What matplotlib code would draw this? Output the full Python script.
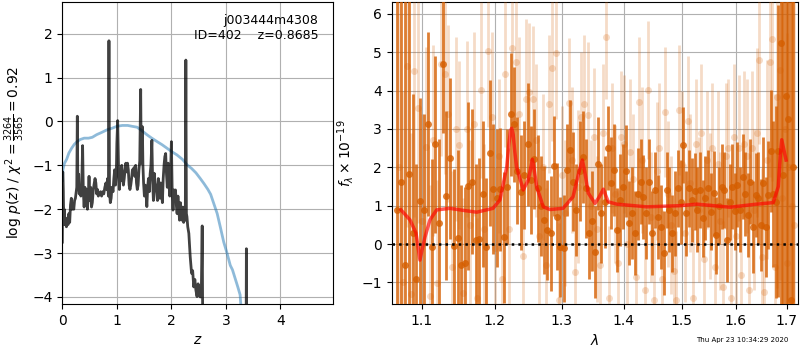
import matplotlib
matplotlib.use('Agg')
import matplotlib.pyplot as plt
from matplotlib.ticker import FixedLocator, NullLocator, FixedFormatter

# ---- left panel: redshift probability ----
z_pz = [0.000, 0.008, 0.018, 0.025, 0.035, 0.045, 0.060, 0.075, 0.090, 0.105,
        0.120, 0.135, 0.150, 0.165, 0.180, 0.195, 0.210, 0.225, 0.240, 0.255,
        0.265, 0.275, 0.285, 0.300, 0.310, 0.325, 0.340, 0.355, 0.372, 0.385,
        0.400, 0.415, 0.430, 0.445, 0.460, 0.475, 0.490, 0.505, 0.520, 0.535,
        0.550, 0.565, 0.580, 0.600, 0.615, 0.630, 0.645, 0.660, 0.680, 0.700,
        0.720, 0.740, 0.760, 0.780, 0.800, 0.815, 0.830, 0.845, 0.855, 0.865,
        0.880, 0.895, 0.910, 0.930, 0.945, 0.960, 0.975, 0.990, 1.000, 1.015,
        1.030, 1.045, 1.060, 1.075, 1.090, 1.105, 1.120, 1.135, 1.150, 1.165,
        1.180, 1.195, 1.210, 1.225, 1.240, 1.255, 1.270, 1.285, 1.300, 1.315,
        1.330, 1.345, 1.360, 1.375, 1.390, 1.405, 1.420, 1.437, 1.447, 1.455,
        1.468, 1.478, 1.490, 1.505, 1.520, 1.535, 1.550, 1.565, 1.580, 1.595,
        1.610, 1.625, 1.642, 1.655, 1.670, 1.685, 1.700, 1.715, 1.730, 1.745,
        1.760, 1.775, 1.790, 1.805, 1.820, 1.835, 1.850, 1.865, 1.880, 1.895,
        1.910, 1.925, 1.940, 1.955, 1.970, 1.985, 2.000, 2.015, 2.030, 2.045,
        2.060, 2.075, 2.090, 2.105, 2.120, 2.135, 2.150, 2.165, 2.180, 2.195,
        2.210, 2.225, 2.240, 2.255, 2.265, 2.275, 2.285, 2.300, 2.320, 2.345,
        2.370, 2.390, 2.410, 2.430, 2.450, 2.470, 2.490, 2.510, 2.530, 2.548,
        2.565, 2.580, 2.700, 3.000, 3.300, 3.366, 3.375, 3.385, 3.500, 4.970]
lnp = [-2.75, -1.15, -1.60, -2.20, -2.00, -2.35, -2.25, -2.40, -2.20, -2.35,
       -2.10, -2.30, -1.90, -1.75, -2.00, -1.90, -2.00, -1.80, -1.75, -1.60,
       -1.50, 0.12, -1.45, -1.20, -1.65, -1.55, -1.70, -1.50, -0.55, -1.60,
       -1.95, -1.50, -1.85, -1.55, -2.00, -1.70, -1.25, -1.80, -1.50, -1.95,
       -1.85, -1.60, -1.45, -1.30, -1.40, -1.65, -1.55, -1.70, -1.65, -1.60,
       -1.70, -1.60, -1.65, -1.50, -1.40, -1.55, -1.30, -1.70, 1.84, -1.60,
       -1.85, -1.75, -1.50, -1.60, -1.30, -1.10, -1.45, -1.20, -0.50, 0.02,
       -1.00, -1.55, -1.20, -1.35, -1.00, -1.25, -1.45, -1.30, -1.10, -0.95,
       -1.15, -0.95, -1.10, -1.45, -1.55, -1.45, -1.30, -1.10, -1.20, -1.05,
       -1.25, -1.00, -1.40, -1.55, -1.45, -1.10, -0.90, 0.73, -0.95, -0.90,
       -0.12, -1.00, -1.40, -1.70, -1.45, -1.65, -1.94, -1.49, -1.30, -1.60,
       -1.20, -1.00, -0.43, -1.30, -1.80, -1.18, -1.40, -1.49, -1.65, -1.80,
       -1.30, -1.55, -1.75, -1.40, -1.60, -1.85, -1.30, -1.00, -0.80, -0.73,
       -1.20, -1.50, -0.95, -1.40, -1.70, -1.20, -0.46, -1.64, -2.02, -1.56,
       -1.80, -1.56, -1.90, -2.10, -1.70, -2.00, -2.25, -1.85, -2.10, -2.25,
       -1.95, -2.30, -2.10, -2.25, 1.40, -2.10, -2.17, -2.40, -2.55, -3.08,
       -3.46, -3.40, -3.77, -3.60, -3.85, -3.99, -3.70, -3.95, -4.00, -3.99,
       -2.38, -6.00, -8.00, -8.00, -8.00, -7.00, -2.90, -7.00, -8.00, -8.00]

z_prior = [0.00, 0.01, 0.04, 0.08, 0.12, 0.17, 0.22, 0.27, 0.33, 0.40,
           0.48, 0.55, 0.63, 0.72, 0.82, 0.92, 1.00, 1.10, 1.20, 1.28,
           1.37, 1.45, 1.55, 1.64, 1.74, 1.83, 1.92, 2.01, 2.10, 2.20,
           2.29, 2.37, 2.45, 2.53, 2.60, 2.67, 2.72, 2.78, 2.84, 2.90,
           2.96, 3.02, 3.08, 3.12, 3.17, 3.22, 3.26, 3.28, 3.32, 3.45]
lnp_prior = [-1.35, -1.10, -0.95, -0.86, -0.72, -0.61, -0.52, -0.46, -0.41, -0.38,
             -0.38, -0.36, -0.30, -0.25, -0.19, -0.15, -0.11, -0.09, -0.09, -0.11,
             -0.13, -0.20, -0.30, -0.38, -0.46, -0.53, -0.61, -0.69, -0.76, -0.86,
             -0.99, -1.07, -1.17, -1.30, -1.42, -1.55, -1.66, -1.88, -2.10, -2.42,
             -2.75, -3.00, -3.28, -3.38, -3.58, -3.78, -3.95, -4.30, -5.00, -6.50]

# ---- right panel: 1D spectrum ----
wave_a = [1.068, 1.073, 1.078, 1.083, 1.088, 1.093, 1.098, 1.103, 1.108, 1.113,
          1.118, 1.123, 1.128, 1.133, 1.138, 1.143, 1.148, 1.153, 1.158, 1.163,
          1.168, 1.173, 1.178, 1.183, 1.188, 1.193, 1.198, 1.203, 1.208, 1.213,
          1.218, 1.223, 1.228, 1.233, 1.238, 1.243, 1.248, 1.253, 1.258, 1.263,
          1.268, 1.273, 1.278, 1.283, 1.288, 1.293, 1.298, 1.303, 1.308, 1.313,
          1.318, 1.323, 1.328, 1.333, 1.338, 1.343, 1.348, 1.353, 1.358, 1.363,
          1.368, 1.373, 1.378, 1.383, 1.388, 1.393, 1.398, 1.403, 1.408, 1.413,
          1.418, 1.423, 1.428, 1.433, 1.438, 1.443, 1.448, 1.453, 1.458, 1.463,
          1.468, 1.473, 1.478, 1.483, 1.488, 1.493, 1.498, 1.503, 1.508, 1.513,
          1.518, 1.523, 1.528, 1.533, 1.538, 1.543, 1.548, 1.553, 1.558, 1.563,
          1.568, 1.573, 1.578, 1.583, 1.588, 1.593, 1.598, 1.603, 1.608, 1.613,
          1.618, 1.623, 1.628, 1.633, 1.638, 1.643, 1.648, 1.653, 1.658, 1.663,
          1.668, 1.673, 1.678, 1.683, 1.688, 1.693, 1.698, 1.703, 1.708, 1.713]
flux_a = [0.90, 1.61, -0.55, 1.83, 0.30, -0.90, 1.11, 0.89, 3.13, -0.09,
          2.60, 0.54, 4.70, 1.26, 2.24, -0.05, 0.15, -0.55, -0.50, 1.51,
          1.63, 0.10, 0.14, 1.30, -0.09, 2.37, 1.43, 1.20, 1.43, 0.17,
          1.50, 3.38, 3.12, 1.91, 1.35, 1.80, 2.60, 1.67, 2.21, 1.45,
          1.00, 0.63, 0.37, 0.28, 2.04, 0.71, -0.07, -0.11, 1.93, 2.45,
          1.63, 0.89, 1.90, 2.28, 1.45, 0.28, 0.60, -0.20, 2.10, 0.80,
          1.10, 2.50, 1.58, 1.93, 0.37, 1.15, 1.50, 1.90, 0.54, 0.80,
          0.28, 1.30, 1.63, 1.23, 0.80, 1.63, 0.28, 1.41, 0.71, 0.45,
          -0.24, 1.41, 0.90, 0.28, 0.80, 1.45, 1.10, 2.58, 0.80, 1.45,
          1.15, 1.37, 0.90, 1.41, 0.67, 1.20, 1.45, 0.84, 1.32, 0.23,
          1.00, 1.50, 1.41, 0.10, 1.10, 1.50, 0.85, 1.55, 0.90, 1.76,
          1.30, 0.76, 1.63, 0.45, 1.28, 1.20, 0.50, 1.60, 0.45, 1.28,
          2.43, 1.30, 1.10, 2.43, 5.25, 1.80, 3.87, 3.26, -1.46, 2.00]
err_a = [10.0, 8.0, 7.0, 5.5, 3.6, 3.0, 2.7, 2.5, 2.4, 2.3,
         2.3, 2.2, 1.8, 2.2, 2.1, 2.0, 2.3, 2.1, 2.0, 2.2,
         1.9, 2.0, 2.1, 1.9, 1.8, 1.9, 1.7, 1.8, 1.6, 1.7,
         1.5, 1.6, 1.5, 1.4, 1.5, 1.4, 1.6, 1.4, 1.3, 1.4,
         1.3, 1.4, 1.3, 1.5, 1.3, 1.4, 1.3, 1.4, 1.2, 1.3,
         1.3, 1.2, 1.3, 1.2, 1.3, 1.2, 1.3, 1.2, 1.2, 1.3,
         1.2, 1.1, 1.2, 1.2, 1.1, 1.2, 1.1, 1.2, 1.1, 1.2,
         1.1, 1.2, 1.1, 1.1, 1.2, 1.1, 1.1, 1.0, 1.1, 1.1,
         1.1, 1.0, 1.1, 1.0, 1.1, 1.0, 1.1, 1.0, 1.1, 1.0,
         1.1, 1.0, 1.1, 1.0, 1.0, 1.1, 1.0, 1.0, 1.1, 1.0,
         1.0, 1.1, 1.0, 1.1, 1.0, 1.1, 1.0, 1.1, 1.1, 1.1,
         1.1, 1.1, 1.1, 1.2, 1.1, 1.2, 1.2, 1.2, 1.3, 1.4,
         1.6, 1.9, 2.5, 3.8, 8.0, 8.0, 8.0, 8.0, 8.0, 9.0]

wave_b = [1.0705, 1.0755, 1.0805, 1.0855, 1.0905, 1.0955, 1.1005, 1.1055, 1.1105, 1.1155,
          1.1205, 1.1255, 1.1305, 1.1355, 1.1405, 1.1455, 1.1505, 1.1555, 1.1605, 1.1655,
          1.1705, 1.1755, 1.1805, 1.1855, 1.1905, 1.1955, 1.2005, 1.2055, 1.2105, 1.2155,
          1.2205, 1.2255, 1.2305, 1.2355, 1.2405, 1.2455, 1.2505, 1.2555, 1.2605, 1.2655,
          1.2705, 1.2755, 1.2805, 1.2855, 1.2905, 1.2955, 1.3005, 1.3055, 1.3105, 1.3155,
          1.3205, 1.3255, 1.3305, 1.3355, 1.3405, 1.3455, 1.3505, 1.3555, 1.3605, 1.3655,
          1.3705, 1.3755, 1.3805, 1.3855, 1.3905, 1.3955, 1.4005, 1.4055, 1.4105, 1.4155,
          1.4205, 1.4255, 1.4305, 1.4355, 1.4405, 1.4455, 1.4505, 1.4555, 1.4605, 1.4655,
          1.4705, 1.4755, 1.4805, 1.4855, 1.4905, 1.4955, 1.5005, 1.5055, 1.5105, 1.5155,
          1.5205, 1.5255, 1.5305, 1.5355, 1.5405, 1.5455, 1.5505, 1.5555, 1.5605, 1.5655,
          1.5705, 1.5755, 1.5805, 1.5855, 1.5905, 1.5955, 1.6005, 1.6055, 1.6105, 1.6155,
          1.6205, 1.6255, 1.6305, 1.6355, 1.6405, 1.6455, 1.6505, 1.6555, 1.6605, 1.6655,
          1.6705, 1.6755, 1.6805, 1.6855, 1.6905, 1.6955, 1.7005, 1.7055, 1.7105, 1.7155]
flux_b = [2.00, -1.00, 4.64, -1.30, 4.50, 3.54, 0.60, 2.54, -1.35, 2.70,
          -1.03, 4.70, 4.43, 3.40, -0.59, 3.00, 2.58, -1.29, 3.00, 0.50,
          3.13, -1.42, 4.02, 0.40, 5.04, 3.32, -0.10, 2.30, -0.90, 4.43,
          0.40, 5.10, 4.74, 3.40, -0.30, 3.78, 3.97, 3.78, 2.70, 0.20,
          2.00, -0.55, 3.64, 4.58, 4.97, -1.46, 1.80, 0.80, 3.67, 2.20,
          -0.72, 1.50, 3.30, 3.64, 3.37, 1.00, 2.80, 0.40, -0.55, 2.90,
          5.39, -1.42, 2.50, 1.30, -0.50, 2.80, 2.60, 0.00, 2.40, 1.70,
          -0.85, 3.71, 2.20, -1.20, 4.02, 0.70, -1.46, 1.90, 2.50, -0.90,
          3.45, 1.30, 0.50, -0.70, -1.46, 3.50, 2.10, 0.30, 3.20, 1.60,
          -1.42, 2.60, 0.90, 2.90, -0.40, 2.20, 1.00, 2.50, -0.59, 2.10,
          0.60, -1.11, 2.30, 2.50, -1.40, 2.80, 0.20, 2.50, -0.80, 2.60,
          2.30, -1.20, 2.50, 0.90, 2.90, 4.80, -0.33, -1.24, 2.20, 4.76,
          5.35, -0.60, 3.84, 4.55, 1.20, 3.00, -0.50, 2.00, 1.00, 0.50]
err_b = [6.0, 5.0, 4.2, 4.2, 3.8, 3.0, 2.8, 2.6, 2.9, 2.5,
         2.7, 2.4, 2.6, 2.3, 2.5, 2.4, 2.2, 2.5, 2.3, 2.2,
         2.4, 2.1, 2.3, 2.2, 2.0, 2.2, 2.1, 2.0, 2.2, 1.9,
         2.1, 2.0, 1.8, 2.0, 1.9, 2.1, 1.8, 1.9, 2.0, 1.8,
         1.9, 2.0, 1.8, 1.9, 1.7, 2.0, 1.8, 1.9, 1.7, 1.9,
         1.8, 2.0, 1.7, 1.8, 1.9, 1.7, 1.8, 1.9, 1.7, 1.8,
         1.6, 1.9, 1.7, 1.8, 1.9, 1.7, 1.8, 1.7, 1.9, 1.7,
         1.8, 1.7, 1.9, 1.7, 1.8, 1.7, 1.9, 1.8, 1.7, 1.8,
         1.7, 1.9, 1.8, 1.7, 1.8, 1.7, 1.9, 1.8, 1.7, 1.8,
         1.8, 1.7, 1.9, 1.8, 1.7, 1.8, 1.9, 1.7, 1.8, 1.9,
         1.8, 1.7, 1.9, 1.8, 1.8, 1.9, 1.8, 1.9, 2.0, 1.9,
         2.0, 2.1, 2.0, 2.1, 2.2, 2.2, 2.3, 2.4, 2.6, 3.0,
         3.7, 4.5, 5.0, 5.5, 6.0, 6.0, 6.0, 6.0, 6.0, 6.0]

wave_model = [1.0731, 1.0847, 1.0925, 1.0950, 1.0977, 1.1005, 1.1043, 1.1109, 1.1198, 1.1377,
              1.1550, 1.1745, 1.1976, 1.2076, 1.2173, 1.2205, 1.2228, 1.2246, 1.2268, 1.2292,
              1.2319, 1.2416, 1.2491, 1.2535, 1.2551, 1.2570, 1.2617, 1.2716, 1.2818, 1.3019,
              1.3175, 1.3280, 1.3322, 1.3360, 1.3417, 1.3525, 1.3594, 1.3660, 1.3741, 1.3880,
              1.4385, 1.4968, 1.5269, 1.5888, 1.6402, 1.6730, 1.6830, 1.6870, 1.6899, 1.6986]
flux_model = [0.89, 0.63, 0.29, -0.05, -0.42, -0.15, 0.18, 0.63, 0.89, 0.93,
              0.88, 0.83, 0.93, 1.15, 2.00, 2.60, 2.95, 3.02, 2.85, 2.40,
              2.00, 1.41, 1.67, 2.05, 2.21, 2.05, 1.49, 0.97, 0.90, 0.93,
              1.23, 1.95, 2.19, 1.90, 1.33, 1.06, 1.23, 1.43, 1.10, 1.04,
              0.97, 1.00, 1.04, 0.96, 1.04, 1.08, 1.50, 2.30, 2.72, 2.19]

orange = (0.835, 0.369, 0.0)

fig = plt.figure(figsize=(8, 3.5), dpi=100)

ax = fig.add_axes([0.0779, 0.1314, 0.3388, 0.8637])
ax.plot(z_prior, lnp_prior, color='#1f77b4', alpha=0.5, lw=2)
ax.plot(z_pz, lnp, color='k', alpha=0.75, lw=2)
ax.set_xlim(0, 4.97)
ax.set_ylim(-4.16, 2.73)
ax.set_xticks([0, 1, 2, 3, 4])
ax.set_yticks([-4, -3, -2, -1, 0, 1, 2])
ax.grid()
ax.set_xlabel(r'$z$')
ax.set_ylabel(r'log $p(z)$' + ' / ' + r'$\chi^2=\frac{3264}{3565}=0.92$')
ax.text(0.945, 0.96, 'j003444m4308\nID=402    z=0.8685', ha='right', va='top',
        transform=ax.transAxes, fontsize=9)

ax2 = fig.add_axes([0.4896, 0.1314, 0.5085, 0.8637])
ax2.errorbar(wave_b, flux_b, yerr=err_b, fmt='o', ms=5, color=orange, alpha=0.22,
             elinewidth=2, capsize=0, mew=0, zorder=3)
ax2.errorbar(wave_a, flux_a, yerr=err_a, fmt='o', ms=5, color=orange, alpha=0.8,
             elinewidth=2, capsize=0, mew=0, zorder=4)
ax2.plot(wave_model, flux_model, color='r', alpha=0.65, lw=2.5, zorder=10)
ax2.plot([1.0613, 1.724], [0, 0], color='k', linestyle=':', lw=1.8, zorder=11)
ax2.set_xscale('log')
ax2.set_xlim(1.0613, 1.724)
ax2.set_ylim(-1.565, 6.32)
xt = [1.1, 1.2, 1.3, 1.4, 1.5, 1.6, 1.7]
ax2.xaxis.set_major_locator(FixedLocator(xt))
ax2.xaxis.set_major_formatter(FixedFormatter(['%.1f' % v for v in xt]))
ax2.xaxis.set_minor_locator(NullLocator())
ax2.set_yticks([-1, 0, 1, 2, 3, 4, 5, 6])
ax2.grid()
ax2.set_xlabel(r'$\lambda$')
ax2.set_ylabel(r'$f_\lambda\times 10^{-19}$')

fig.text(0.985, 0.02, 'Thu Apr 23 10:34:29 2020', ha='right', va='bottom', fontsize=5)

fig.savefig('out.png', dpi=100)
